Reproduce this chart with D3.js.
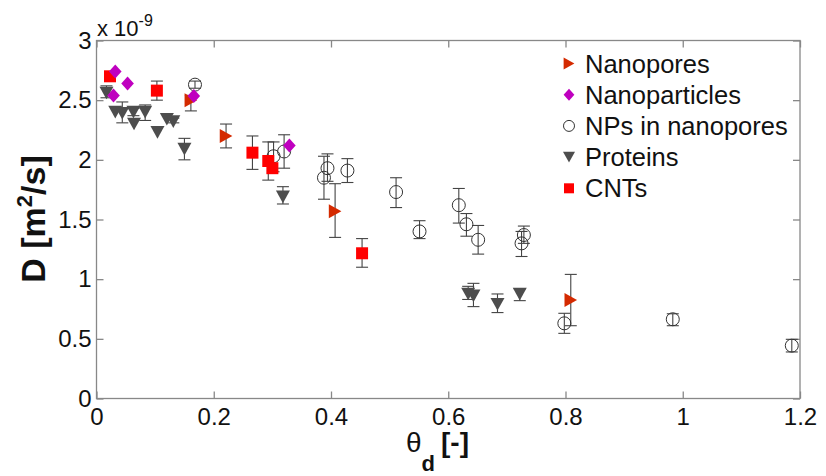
<!DOCTYPE html>
<html>
<head>
<meta charset="utf-8">
<script src="https://cdn.jsdelivr.net/npm/d3@7"></script>
<style>
  body { margin: 0; background: #fff; }
  svg { display: block; font-family: Arial, "Liberation Sans", sans-serif; }
</style>
</head>
<body>
<svg id="chart" width="826" height="476"></svg>
<script>
// --- data (D in units of 1e-9 m^2/s) ---
const seriesNames = ['Nanopores', 'Nanoparticles', 'NPs in nanopores', 'Proteins', 'CNTs'];

const nanoporesX = [0.161, 0.221, 0.407, 0.809];
const nanoporesY = [2.50, 2.20, 1.57, 0.825];
const nanoporesLo = [2.41, 2.10, 1.35, 0.61];
const nanoporesHi = [2.54, 2.30, 1.80, 1.04];

const nanoparticlesX = [0.032, 0.053, 0.029, 0.166, 0.329];
const nanoparticlesY = [2.74, 2.64, 2.54, 2.535, 2.12];

const npsX = [0.168, 0.302, 0.320, 0.388, 0.394, 0.428, 0.511, 0.551, 0.618, 0.631, 0.651, 0.725, 0.729, 0.798, 0.983, 1.186];
const npsY = [2.63, 2.03, 2.07, 1.85, 1.93, 1.91, 1.73, 1.40, 1.62, 1.46, 1.33, 1.30, 1.37, 0.63, 0.664, 0.443];
const npsLo = [2.60, 1.90, 1.93, 1.67, 1.82, 1.81, 1.60, 1.34, 1.47, 1.36, 1.21, 1.19, 1.30, 0.546, 0.61, 0.39];
const npsHi = [2.66, 2.15, 2.21, 2.03, 2.05, 2.01, 1.85, 1.49, 1.76, 1.55, 1.45, 1.40, 1.445, 0.714, 0.71, 0.496];

const proteinsX = [0.017, 0.032, 0.044, 0.063, 0.064, 0.083, 0.104, 0.120, 0.131, 0.150, 0.318, 0.634, 0.643, 0.684, 0.722];
const proteinsY = [2.56, 2.40, 2.39, 2.40, 2.30, 2.40, 2.23, 2.34, 2.32, 2.09, 1.69, 0.876, 0.86, 0.79, 0.875];
const proteinsLo = [2.52, null, 2.31, 2.37, null, 2.33, null, null, 2.31, 2.00, 1.63, 0.83, 0.77, 0.72, 0.82];
const proteinsHi = [2.62, null, 2.485, 2.43, null, 2.46, null, null, 2.35, 2.18, 1.775, 0.94, 0.965, 0.876, 0.92];

const cntsX = [0.023, 0.103, 0.266, 0.293, 0.300, 0.453];
const cntsY = [2.70, 2.58, 2.06, 1.99, 1.93, 1.217];
const cntsLo = [null, 2.50, 1.92, 1.83, null, 1.10];
const cntsHi = [null, 2.66, 2.20, 2.15, null, 1.34];

const xTicks = [0, 0.2, 0.4, 0.6, 0.8, 1, 1.2];
const yTicks = [0, 0.5, 1, 1.5, 2, 2.5, 3];

// --- layout ---
const margin = { left: 96.5, right: 26, top: 40.5, bottom: 77.5 };
const W = 826, H = 476;
const svg = d3.select('#chart');

const x = d3.scaleLinear().domain([0, 1.2]).range([margin.left, W - margin.right]);
const y = d3.scaleLinear().domain([0, 3]).range([H - margin.bottom, margin.top]);

// custom marker shapes (size = width in px)
const triDown = { draw(ctx, s) { const w = s / 2, h = s * 0.45; ctx.moveTo(-w, -h); ctx.lineTo(w, -h); ctx.lineTo(0, h); ctx.closePath(); } };
const triRight = { draw(ctx, s) { const w = s * 0.45, h = s / 2; ctx.moveTo(-w, -h); ctx.lineTo(w, 0); ctx.lineTo(-w, h); ctx.closePath(); } };
const diamond = { draw(ctx, s) { const w = s * 0.45, h = s / 2; ctx.moveTo(0, -h); ctx.lineTo(w, 0); ctx.lineTo(0, h); ctx.lineTo(-w, 0); ctx.closePath(); } };
const square = { draw(ctx, s) { const h = s / 2; ctx.rect(-h, -h, s, s); } };
const circle = { draw(ctx, s) { const r = s / 2; ctx.moveTo(r, 0); ctx.arc(0, 0, r, 0, 2 * Math.PI); } };

const zip = (xs, ys, lo, hi) => xs.map((v, i) => ({ x: v, y: ys[i], lo: lo ? lo[i] : null, hi: hi ? hi[i] : null }));

// drawing order follows overlaps in the figure
const series = [
  { name: 'NPs in nanopores', pts: zip(npsX, npsY, npsLo, npsHi), type: circle, size: 13, fill: 'none', stroke: '#333' },
  { name: 'CNTs', pts: zip(cntsX, cntsY, cntsLo, cntsHi), type: square, size: 12, fill: '#ff0000', stroke: 'none' },
  { name: 'Proteins', pts: zip(proteinsX, proteinsY, proteinsLo, proteinsHi), type: triDown, size: 14, fill: '#4d4d4d', stroke: 'none' },
  { name: 'Nanopores', pts: zip(nanoporesX, nanoporesY, nanoporesLo, nanoporesHi), type: triRight, size: 14, fill: '#d42a00', stroke: 'none' },
  { name: 'Nanoparticles', pts: zip(nanoparticlesX, nanoparticlesY), type: diamond, size: 14, fill: '#bf00bf', stroke: 'none' }
];

// --- axes box and ticks ---
const fmt = d => String(+d.toFixed(1));
const axisG = svg.append('g');
axisG.append('g').attr('transform', `translate(0,${y(0)})`)
  .call(d3.axisBottom(x).tickValues(xTicks).tickFormat(fmt).tickSizeInner(-7).tickSizeOuter(0).tickPadding(9));
axisG.append('g').attr('transform', `translate(${x(0)},0)`)
  .call(d3.axisLeft(y).tickValues(yTicks).tickFormat(fmt).tickSizeInner(-7).tickSizeOuter(0).tickPadding(5));
axisG.append('g').attr('transform', `translate(0,${y(3)})`)
  .call(d3.axisTop(x).tickValues(xTicks).tickFormat('').tickSizeInner(-7).tickSizeOuter(0));
axisG.append('g').attr('transform', `translate(${x(1.2)},0)`)
  .call(d3.axisRight(y).tickValues(yTicks).tickFormat('').tickSizeInner(-7).tickSizeOuter(0));
axisG.selectAll('.domain').remove();
axisG.selectAll('line').attr('stroke', '#888').attr('stroke-width', 1.3);
axisG.selectAll('text').attr('font-size', 24).attr('font-family', 'Arial, "Liberation Sans", sans-serif').attr('fill', '#111');
axisG.append('rect')
  .attr('x', x(0)).attr('y', y(3)).attr('width', x(1.2) - x(0)).attr('height', y(0) - y(3))
  .attr('fill', 'none').attr('stroke', '#888').attr('stroke-width', 1.3);

// --- error bars ---
const errG = svg.append('g').attr('stroke', '#444').attr('stroke-width', 1.1);
series.forEach(s => {
  s.pts.filter(p => p.lo != null).forEach(p => {
    const cx = x(p.x), cw = 6;
    errG.append('line').attr('x1', cx).attr('x2', cx).attr('y1', y(p.lo)).attr('y2', y(p.hi));
    errG.append('line').attr('x1', cx - cw).attr('x2', cx + cw).attr('y1', y(p.lo)).attr('y2', y(p.lo));
    errG.append('line').attr('x1', cx - cw).attr('x2', cx + cw).attr('y1', y(p.hi)).attr('y2', y(p.hi));
  });
});

// --- markers ---
series.forEach(s => {
  svg.append('g').selectAll('path').data(s.pts).enter().append('path')
    .attr('d', d3.symbol().type(s.type).size(s.size))
    .attr('transform', d => `translate(${x(d.x)},${y(d.y)})`)
    .attr('fill', s.fill).attr('stroke', s.stroke).attr('stroke-width', 1);
});

// --- legend ---
const legend = svg.append('g');
seriesNames.forEach((name, i) => {
  const s = series.find(d => d.name === name);
  const ly = 63.5 + i * 31.2;
  legend.append('path')
    .attr('d', d3.symbol().type(s.type).size(s.size - 2))
    .attr('transform', `translate(569,${ly})`)
    .attr('fill', s.fill).attr('stroke', s.stroke).attr('stroke-width', 1);
  legend.append('text').attr('x', 585).attr('y', ly).attr('dy', '0.36em')
    .attr('font-size', 25.5).attr('fill', '#111').text(name);
});

// --- exponent label ---
const expo = svg.append('text').attr('x', 97).attr('y', 36).attr('font-size', 22).attr('fill', '#111');
expo.append('tspan').text('x 10');
expo.append('tspan').attr('dy', -10).attr('font-size', 16).text('-9');

// --- axis titles ---
const yl = svg.append('text').attr('transform', 'translate(45,219) rotate(-90)')
  .attr('text-anchor', 'middle').attr('font-size', 34).attr('font-weight', 'bold').attr('fill', '#111');
yl.append('tspan').text('D [m');
yl.append('tspan').attr('dy', -13).attr('font-size', 22).text('2');
yl.append('tspan').attr('dy', 13).text('/s]');

const xl = svg.append('text').attr('x', 406).attr('y', 452).attr('font-size', 28).attr('fill', '#111');
xl.append('tspan').text('θ');
xl.append('tspan').attr('dy', 19).attr('font-size', 22).attr('font-weight', 'bold').text('d');
xl.append('tspan').attr('dy', -19).attr('font-weight', 'bold').attr('dx', 6).text('[-]');
</script>
</body>
</html>
